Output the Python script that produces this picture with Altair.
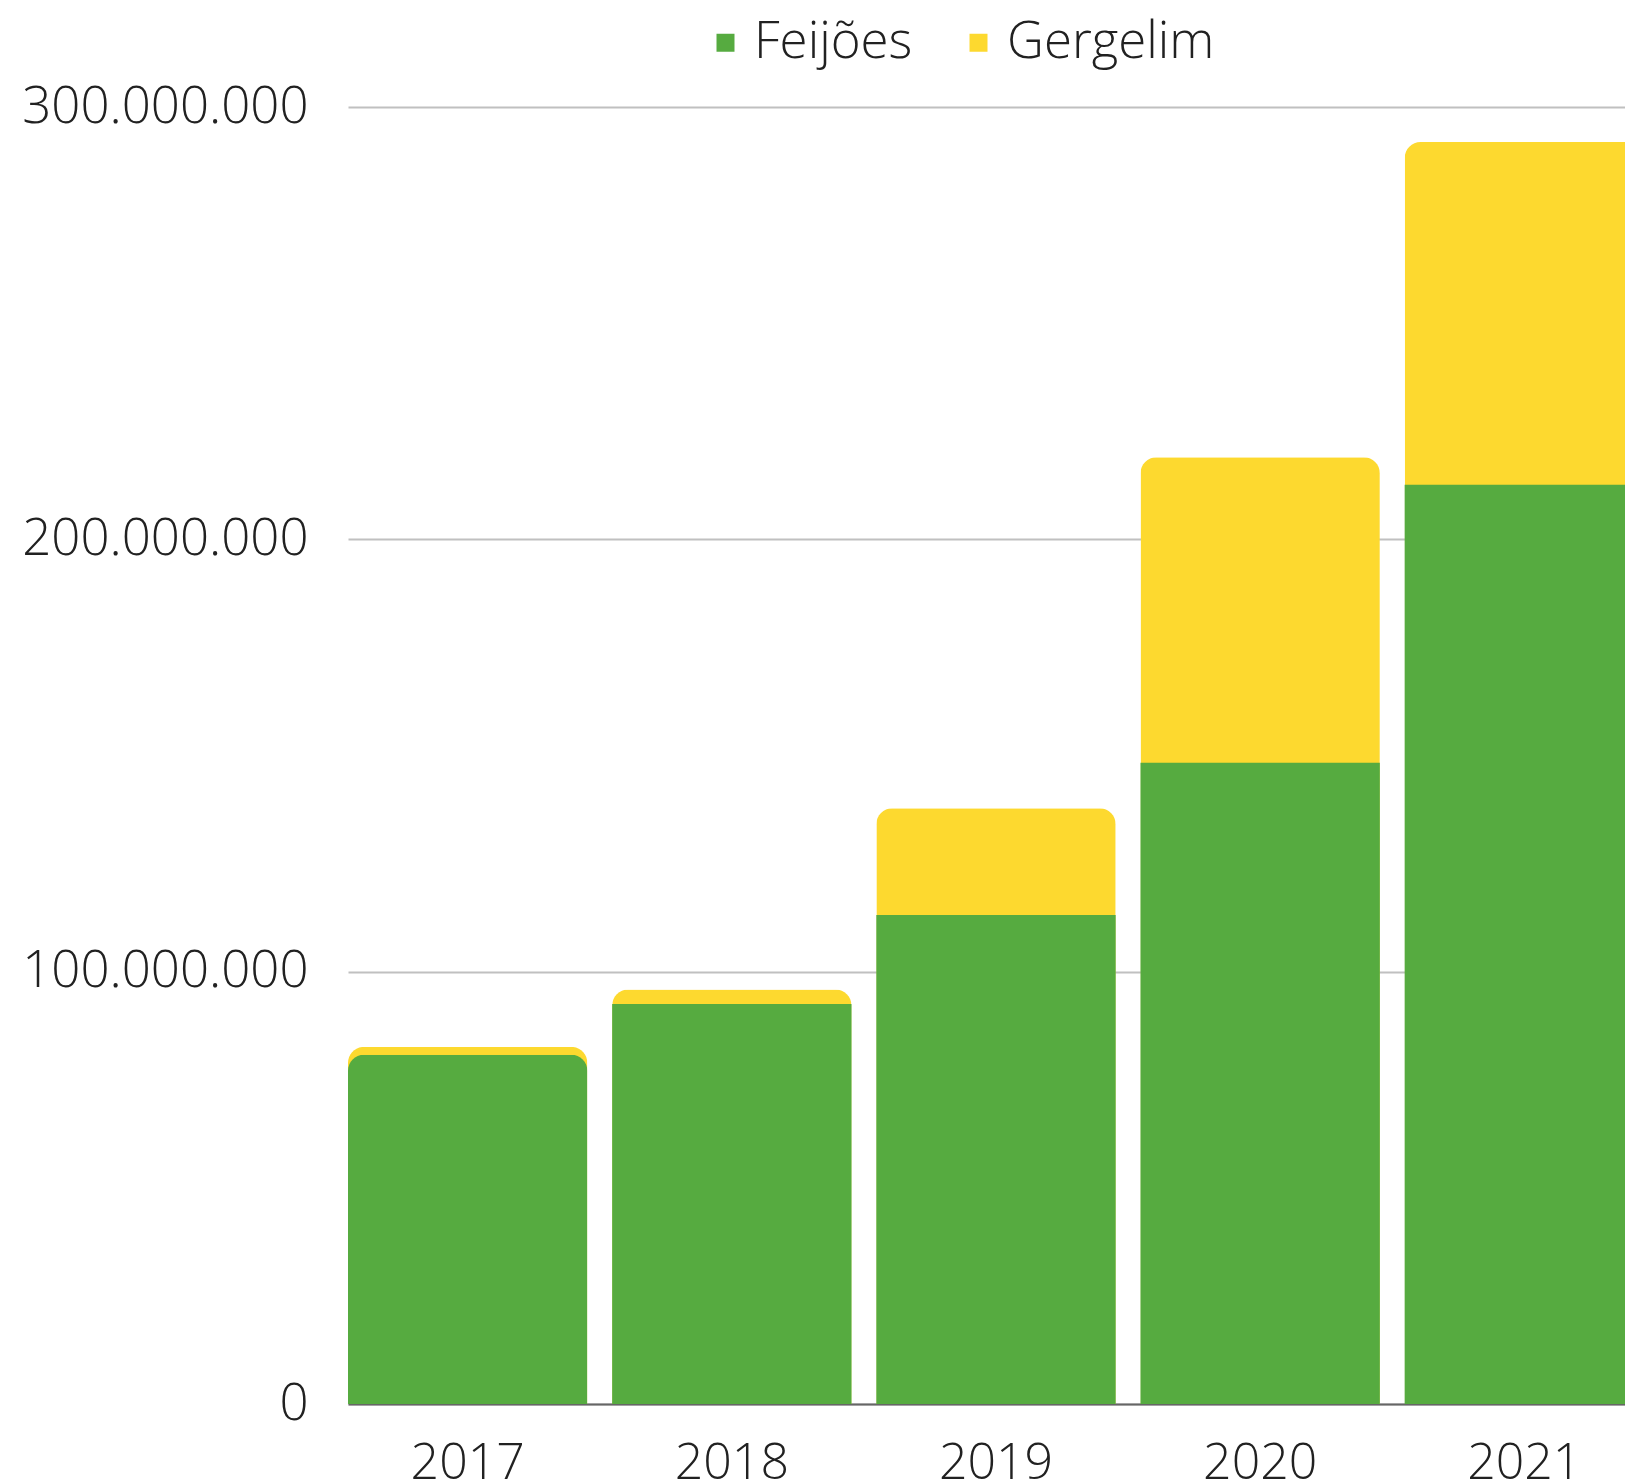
import altair as alt
import pandas as pd

years = ["2017", "2018", "2019", "2020", "2021"]
feijoes = [80.8e6, 92.5e6, 113.1e6, 148.3e6, 212.6e6]
gergelim = [1.8e6, 3.4e6, 24.7e6, 70.7e6, 79.3e6]
series = ["Feijões", "Gergelim"]
colors = ["#56AB40", "#FDD92F"]
y_ticks = [0, 100e6, 200e6, 300e6]

df = pd.DataFrame({"Ano": years, "Feijoes": feijoes, "Gergelim": gergelim})
df["Total"] = df["Feijoes"] + df["Gergelim"]

FONT = "Open Sans"
R = 16

color_scale = alt.Scale(domain=series, range=colors)
x_enc = alt.X("Ano:N", sort=years, title=None,
              scale=alt.Scale(range=[0, 1296], paddingInner=0.094, paddingOuter=0),
              axis=alt.Axis(labelAngle=0, ticks=False, domain=True, domainColor="#666666",
                            domainWidth=2, labelFont=FONT, labelFontSize=50, labelFontWeight=300,
                            labelColor="#212121", labelPadding=34, labelLimit=0,
                            grid=False, zindex=0))
y_scale = alt.Scale(domain=[0, 300e6], nice=False)
y_axis = alt.Axis(values=y_ticks, ticks=False, domain=False, gridColor="#C0C0C0", gridWidth=2,
                  labelFont=FONT, labelFontSize=51, labelFontWeight=300, labelColor="#212121",
                  labelPadding=40, labelLimit=0,
                  labelExpr="replace(replace(format(datum.value, ',.0f'), ',', '.'), ',', '.')")

legend = alt.Legend(title=None, orient="none", legendX=352, legendY=-90,
                    direction="horizontal", symbolType="square",
                    symbolSize=324, symbolStrokeWidth=0, labelLimit=0,
                    labelFont=FONT, labelFontSize=51, labelFontWeight=300,
                    labelColor="#212121", labelOffset=3, columnPadding=40)

base = alt.Chart(df)

yellow = base.transform_calculate(Serie="'Gergelim'").mark_bar(
    cornerRadiusTopLeft=R, cornerRadiusTopRight=R).encode(
    x=x_enc,
    y=alt.Y("Total:Q", scale=y_scale, axis=y_axis, title=None),
    color=alt.Color("Serie:N", scale=color_scale, legend=legend),
)

green_sq = base.transform_filter("datum.Gergelim >= 3000000").transform_calculate(
    Serie="'Feijões'").mark_bar().encode(
    x=alt.X("Ano:N", sort=years),
    y=alt.Y("Feijoes:Q"),
    color=alt.Color("Serie:N", scale=color_scale, legend=legend),
)

green_rd = base.transform_filter("datum.Gergelim < 3000000").transform_calculate(
    Serie="'Feijões'").mark_bar(
    cornerRadiusTopLeft=R, cornerRadiusTopRight=R).encode(
    x=alt.X("Ano:N", sort=years),
    y=alt.Y("Feijoes:Q"),
    color=alt.Color("Serie:N", scale=color_scale, legend=legend),
)

chart = alt.layer(yellow, green_sq, green_rd).properties(
    width=1277, height=1297,
    autosize=alt.AutoSizeParams(type="none"),
    padding={"left": 348, "top": 107, "right": 0, "bottom": 79},
).configure(background="white").configure_view(stroke=None)

chart.save("out.html", embed_options={"renderer": "svg", "actions": False})
